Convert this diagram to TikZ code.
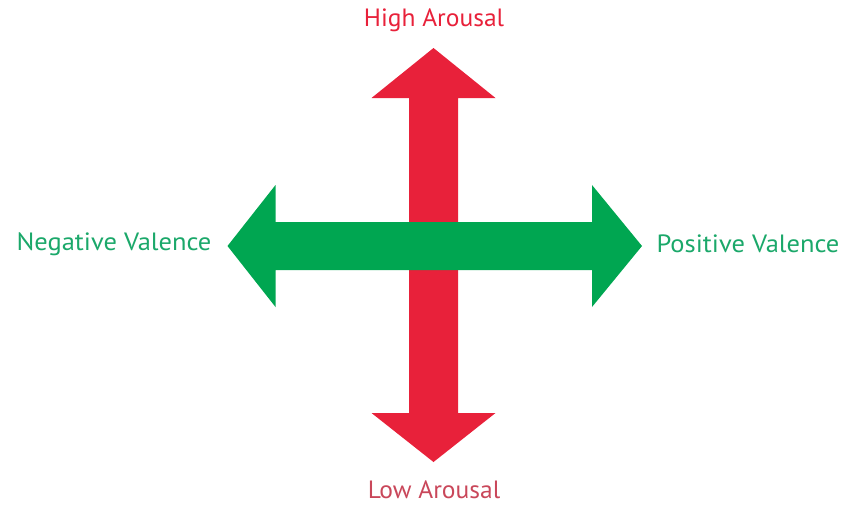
\documentclass[tikz,border=0pt]{standalone}
\usepackage{fontspec}
\setmainfont{PT Sans}
\usetikzlibrary{calc}

\definecolor{arousalred}{HTML}{E8213A}
\definecolor{lowred}{HTML}{C9475A}
\definecolor{valencegreen}{HTML}{00A651}
\definecolor{valencetext}{HTML}{1BA86A}

\begin{document}
\begin{tikzpicture}[x=1pt,y=-1pt]
    \useasboundingbox (0,0) rectangle (844,504);

    %----------------------------------------
    % CENTRE OF THE CROSS
    %----------------------------------------
    \coordinate (centre) at (433.5,246);

    % half widths of shafts and heads
    \def\rs{24.5}
    \def\rh{62}
    \def\gs{24}
    \def\gh{61}

    %----------------------------------------
    % Arousal axis (vertical, red)
    %----------------------------------------
    \fill[arousalred]
      ($(centre)+(-\rs,-148)$) -- ($(centre)+(-\rh,-148)$) -- ($(centre)+(0,-198)$)
      -- ($(centre)+(\rh,-148)$) -- ($(centre)+(\rs,-148)$) -- ($(centre)+(\rs,167)$)
      -- ($(centre)+(\rh,167)$) -- ($(centre)+(0,216)$) -- ($(centre)+(-\rh,167)$)
      -- ($(centre)+(-\rs,167)$) -- cycle;

    %----------------------------------------
    % Valence axis (horizontal, green)
    %----------------------------------------
    \fill[valencegreen]
      ($(centre)+(-158,-\gs)$) -- ($(centre)+(-158,-\gh)$) -- ($(centre)+(-206,0)$)
      -- ($(centre)+(-158,\gh)$) -- ($(centre)+(-158,\gs)$) -- ($(centre)+(158.5,\gs)$)
      -- ($(centre)+(158.5,\gh)$) -- ($(centre)+(208.5,0)$) -- ($(centre)+(158.5,-\gh)$)
      -- ($(centre)+(158.5,-\gs)$) -- cycle;

    %----------------------------------------
    % Labels
    %----------------------------------------
    \node[text=arousalred, font=\fontsize{25}{30}\selectfont, xscale=1.02] (high) at (434,20) {High Arousal};
    \node[text=lowred, font=\fontsize{25}{30}\selectfont, xscale=1.02] (low) at (434,490) {Low Arousal};
    \node[text=valencetext, font=\fontsize{25}{30}\selectfont, xscale=1.06] (neg) at (114,244) {Negative Valence};
    \node[text=valencetext, font=\fontsize{25}{30}\selectfont, xscale=1.06] (pos) at (748,244) {Positive Valence};

\end{tikzpicture}
\end{document}
